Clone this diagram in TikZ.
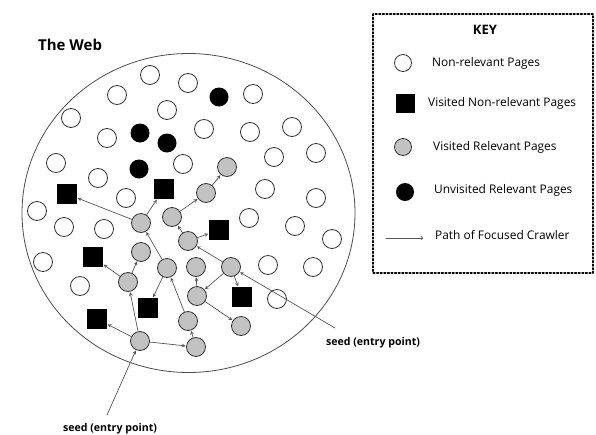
\documentclass[tikz,border=0pt]{standalone}
\usepackage{fontspec}
\setmainfont{Open Sans}
\usetikzlibrary{positioning}
\definecolor{pagegrey}{HTML}{C2C2C2}
\definecolor{linegrey}{HTML}{555555}
\begin{document}
\begin{tikzpicture}[x=1pt,y=-1pt,line cap=round,line join=round,>=stealth,
	page/.style={circle,draw=black!80,fill=white,line width=0.8pt,minimum size=19pt,inner sep=0pt},
	relevant/.style={page,fill=pagegrey},
	unvisited/.style={circle,fill=black,minimum size=19pt,inner sep=0pt},
	visited/.style={rectangle,fill=black,minimum size=20pt,inner sep=0pt},
	crawl/.style={->,color=linegrey,line width=0.7pt,shorten >=0.5pt},
	keytext/.style={anchor=west,font=\fontsize{11.9}{13}\selectfont,inner sep=0pt}]
	\useasboundingbox (0,0) rectangle (596,434);
	% the web
	\draw[color=black!70,line width=0.8pt] (188.5,213) ellipse [x radius=166.5,y radius=159.5];
	\node[anchor=west,font=\bfseries\fontsize{15}{17}\selectfont,inner sep=0pt] (web) at (38,45) {The Web};
	% non-relevant pages
	\foreach \x/\y [count=\i] in {150/75,188/83,117/95,253/94,167/110,71/118,204/129,250/132,292/127,107/138,
		56/163,183/164,274/157,316/153,98/178,126/198,265/189,316/198,37/211,64/227,
		104/229,249/218,295/226,332/239,43/262,268/265,313/267,80/286,277/299}
		\node[page] (n\i) at (\x,\y) {};
	% unvisited relevant pages
	\foreach \x/\y [count=\i] in {219/97,140/133,167/143,139/169}
		\node[unvisited] (b\i) at (\x,\y) {};
	% visited non-relevant pages
	\foreach \x/\y [count=\i] in {67/194,164/189,219/230,93/257,242/297,148/308,97/319}
		\node[visited] (q\i) at (\x,\y) {};
	% visited relevant pages
	\foreach \x/\y [count=\i] in {227/167,206/193,172/217,141/223,188/241,141/252,167/268,196/267,
		231/267,128/282,197/296,188/321,241/326,140/341,196/347}
		\node[relevant] (g\i) at (\x,\y) {};
	% path of the crawler
	\foreach \a/\b in {g14/q7,g14/g15,g14/g10,g15/g12,g12/g7,g7/g4,g7/q6,g4/q1,g4/q2,g10/g6,g10/q4,
		g9/g5,g9/g11,g9/q5,g11/g8,g11/g13,g5/g3,g5/q3,g3/g2,g2/g1}
		\draw[crawl] (\a) -- (\b);
	% seeds
	\coordinate (e1) at (107,415);
	\coordinate (e2) at (335,328);
	\draw[crawl] (e1) -- (g14);
	\draw[crawl] (e2) -- (g9);
	\node[font=\bfseries\fontsize{10.6}{12}\selectfont,inner sep=0pt] (seed1) at (110,429) {seed (entry point)};
	\node[font=\bfseries\fontsize{10.6}{12}\selectfont,inner sep=0pt] (seed2) at (373,343) {seed (entry point)};
	% key
	\draw[line width=1.6pt,dotted] (373,14) rectangle (593,273);
	\node[font=\bfseries\fontsize{13}{15}\selectfont,inner sep=0pt] (key) at (485,30) {KEY};
	\node[page,minimum size=17pt] (k1) at (403,63) {};
	\node[visited,minimum size=19pt] (k2) at (405,103) {};
	\node[relevant,minimum size=17pt] (k3) at (403,147) {};
	\node[unvisited,minimum size=18pt] (k4) at (405,192) {};
	\coordinate (k5a) at (386,238);
	\coordinate (k5b) at (423,238);
	\draw[->,>=to,color=linegrey,line width=0.7pt] (k5a) -- (k5b);
	\node[keytext] (t1) at (432,63) {Non-relevant Pages};
	\node[keytext] (t2) at (428,103) {Visited Non-relevant Pages};
	\node[keytext] (t3) at (433,147) {Visited Relevant Pages};
	\node[keytext] (t4) at (434,190) {Unvisited Relevant Pages};
	\node[keytext] (t5) at (435,235) {Path of Focused Crawler};
\end{tikzpicture}
\end{document}
